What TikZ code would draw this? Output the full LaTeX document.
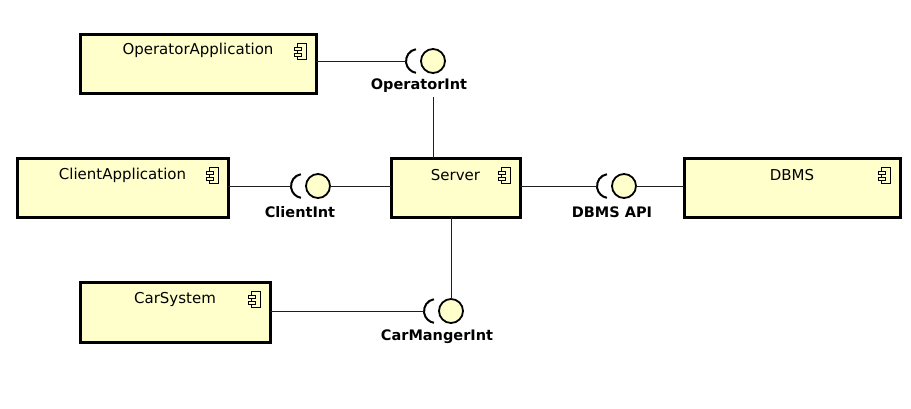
\documentclass[tikz,border=0pt]{standalone}
\usepackage{fontspec}
\setmainfont{DejaVu Sans}
\definecolor{boxfill}{RGB}{255,255,204}
\definecolor{linegray}{RGB}{30,30,30}
\tikzset{
  compbox/.style={draw=black, line width=3pt, fill=boxfill, rectangle, inner sep=0pt, outer sep=0pt},
  boxtext/.style={inner sep=0pt, font=\fontsize{15}{17}\selectfont},
  ifball/.style={draw=black, line width=1.8pt, fill=boxfill, circle, minimum size=24pt, inner sep=0pt, outer sep=0pt},
  iflabel/.style={inner sep=0pt, font=\bfseries\fontsize{14.5}{17}\selectfont},
  conn/.style={draw=linegray, line width=1pt},
  sockarc/.style={draw=black, line width=2pt},
  icon/.style={draw=black, line width=0.8pt, fill=boxfill}
}
\newcommand\compicon[1]{%
  \draw[icon] ([xshift=-19pt,yshift=-9pt]#1.north east) rectangle ++(9pt,-16pt);
  \draw[icon] ([xshift=-22pt,yshift=-13pt]#1.north east) rectangle ++(7pt,-3.5pt);
  \draw[icon] ([xshift=-22pt,yshift=-19pt]#1.north east) rectangle ++(7pt,-3.5pt);
}
\newcommand\socket[1]{%
  \draw[sockarc] ([xshift=-15pt]#1.center) ++(100:12pt) arc[start angle=100, end angle=260, radius=12pt];
}
\begin{document}
\begin{tikzpicture}[x=1pt,y=-1pt]
\useasboundingbox (0,0) rectangle (911,408);
% components
\node[compbox, minimum width=236pt, minimum height=59pt] (opapp) at (198,63.5) {};
\node[compbox, minimum width=211pt, minimum height=59pt] (cliapp) at (122.5,187.5) {};
\node[compbox, minimum width=129pt, minimum height=59pt] (server) at (455.5,187.5) {};
\node[compbox, minimum width=216pt, minimum height=59pt] (dbms) at (792,187.5) {};
\node[compbox, minimum width=190pt, minimum height=60pt] (carsys) at (175,312) {};
\node[boxtext] (opappt) at ([yshift=-16pt]opapp.north) {OperatorApplication};
\node[boxtext] (cliappt) at ([yshift=-17pt]cliapp.north) {ClientApplication};
\node[boxtext] (servert) at ([yshift=-17pt]server.north) {Server};
\node[boxtext] (dbmst) at ([yshift=-17pt]dbms.north) {DBMS};
\node[boxtext] (carsyst) at ([yshift=-17pt]carsys.north) {CarSystem};
\compicon{opapp}
\compicon{cliapp}
\compicon{server}
\compicon{dbms}
\compicon{carsys}
% interfaces
\node[ifball] (opball) at (433,61) {};
\node[ifball] (cliball) at (318,186) {};
\node[ifball] (dbball) at (624,186) {};
\node[ifball] (carball) at (451,311) {};
\coordinate (opsock) at ([xshift=-27pt]opball.center);
\coordinate (clisock) at ([xshift=-27pt]cliball.center);
\coordinate (dbsock) at ([xshift=-27pt]dbball.center);
\coordinate (carsock) at ([xshift=-27pt]carball.center);
\socket{opball}
\socket{cliball}
\socket{dbball}
\socket{carball}
\node[iflabel] (oplab) at (419,86) {OperatorInt};
\node[iflabel] (clilab) at (300,212) {ClientInt};
\node[iflabel] (dblab) at (612,212) {DBMS API};
\node[iflabel] (carlab) at (437,337) {CarMangerInt};
% connectors
\draw[conn] (opapp.east |- opsock) -- (opsock);
\draw[conn] ([yshift=-4pt]opball.center |- oplab.south) -- (opball.center |- server.north);
\draw[conn] (cliapp.east |- clisock) -- (clisock);
\draw[conn] (cliball.east) -- (server.west |- cliball.east);
\draw[conn] (server.east |- dbsock) -- (dbsock);
\draw[conn] (dbball.east) -- (dbms.west |- dbball.east);
\draw[conn] (carsys.east |- carsock) -- (carsock);
\draw[conn] (carball.north |- server.south) -- (carball.north);
\end{tikzpicture}
\end{document}
